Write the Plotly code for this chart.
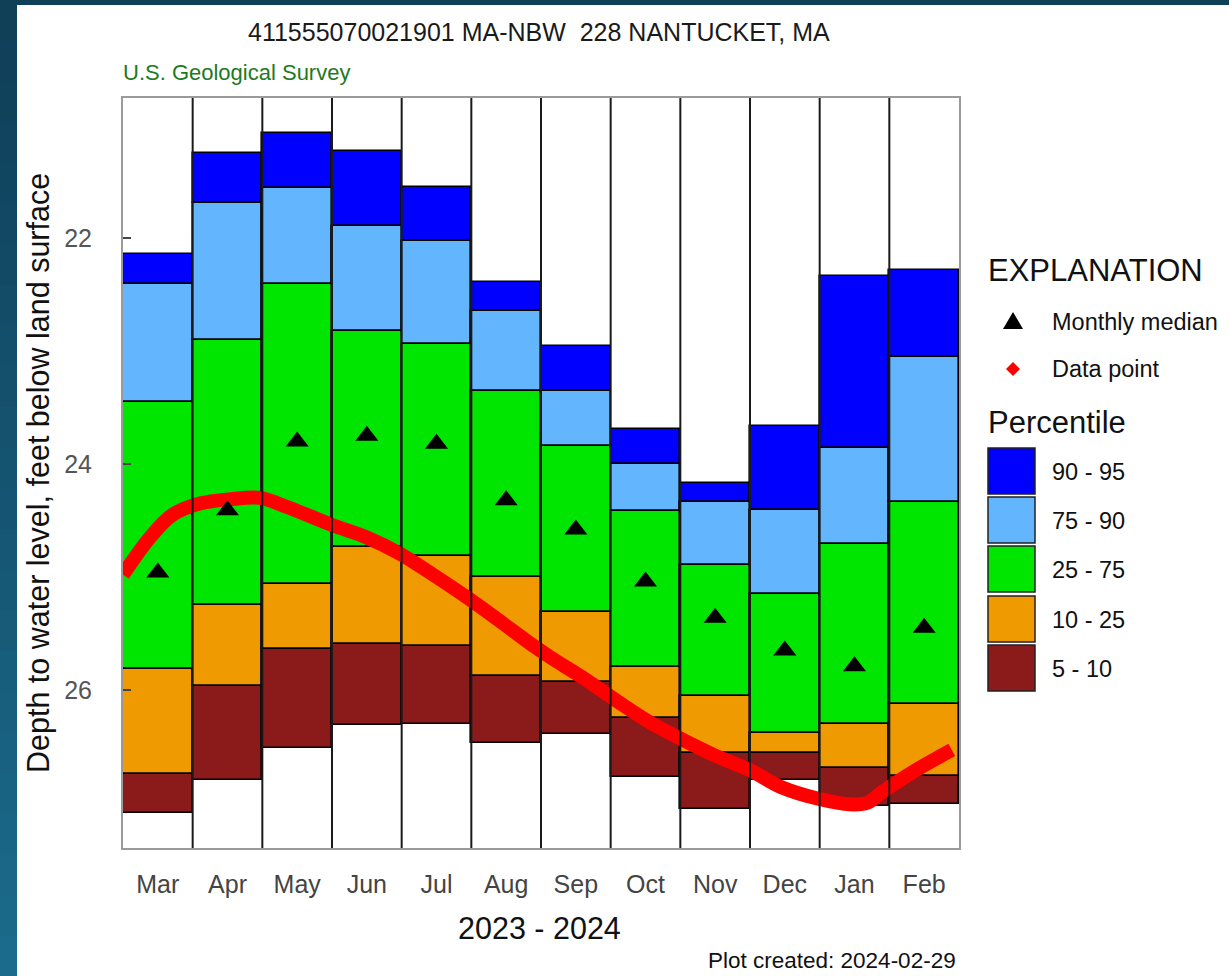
import pandas as pd
import plotly.graph_objects as go

# ---------------- data ----------------
months = ["Mar", "Apr", "May", "Jun", "Jul", "Aug", "Sep", "Oct", "Nov", "Dec", "Jan", "Feb"]
# percentile depths (feet below land surface)
p95 = [22.14, 21.25, 21.07, 21.23, 21.55, 22.39, 22.96, 23.69, 24.17, 23.66, 22.34, 22.28]
p90 = [22.41, 21.69, 21.56, 21.89, 22.03, 22.65, 23.35, 24.00, 24.34, 24.41, 23.86, 23.05]
p75 = [23.45, 22.90, 22.41, 22.82, 22.94, 23.35, 23.84, 24.42, 24.89, 25.15, 24.71, 24.34]
p25 = [25.81, 25.25, 25.06, 24.73, 24.81, 25.00, 25.31, 25.80, 26.05, 26.38, 26.30, 26.12]
p10 = [26.74, 25.96, 25.64, 25.59, 25.61, 25.88, 25.93, 26.25, 26.56, 26.56, 26.69, 26.76]
p05 = [27.09, 26.80, 26.51, 26.31, 26.30, 26.47, 26.39, 26.77, 27.05, 26.80, 27.03, 27.01]
medians = [24.96, 24.41, 23.80, 23.75, 23.82, 24.32, 24.58, 25.04, 25.36, 25.65, 25.79, 25.45]

obs_dates = ["2023-03-01", "2023-03-13", "2023-03-23", "2023-04-04", "2023-04-18", "2023-04-30",
             "2023-05-12", "2023-06-01", "2023-06-16", "2023-06-30", "2023-07-15", "2023-07-30",
             "2023-08-13", "2023-08-28", "2023-09-05", "2023-09-19", "2023-10-04", "2023-10-18",
             "2023-11-02", "2023-11-16", "2023-12-01", "2023-12-15", "2023-12-31", "2024-01-14",
             "2024-01-22", "2024-01-29", "2024-02-12", "2024-02-27"]
obs_depth = [24.98, 24.65, 24.45, 24.35, 24.31, 24.30,
             24.38, 24.54, 24.65, 24.79, 24.98, 25.18,
             25.38, 25.60, 25.71, 25.89, 26.10, 26.28,
             26.44, 26.58, 26.71, 26.86, 26.96, 27.01,
             27.00, 26.90, 26.71, 26.53]

band_names = ["90 - 95", "75 - 90", "25 - 75", "10 - 25", "5 - 10"]
band_colors = ["#0000ff", "#63b5fd", "#00e600", "#ee9a00", "#8b1a1a"]

# ---------------- geometry helpers ----------------
W, H = 1229, 976
L, R, T, B = 123, 959, 98, 848   # plot area in pixels


def px(x):
    return (x - L) / (R - L)


def py(y):
    return (B - y) / (B - T)


FONT = "Liberation Sans, Arial, sans-serif"

# month positions: month i spans [i, i+1]
centers = [i + 0.5 for i in range(12)]


def date_pos(d):
    d = pd.Timestamp(d)
    idx = (d.year - 2023) * 12 + d.month - 3
    return idx + (d.day - 1) / d.days_in_month


obs_x = [date_pos(d) for d in obs_dates]

fig = go.Figure()

bounds = [p95, p90, p75, p25, p10, p05]
for k in range(5):
    upper = bounds[k]
    lower = bounds[k + 1]
    fig.add_trace(go.Bar(
        x=centers, y=[lo - up for lo, up in zip(lower, upper)], base=upper,
        width=1, marker=dict(color=band_colors[k], line=dict(color="black", width=1.6)),
        name=band_names[k], showlegend=False, hoverinfo="skip"))

fig.add_trace(go.Scatter(
    x=obs_x, y=obs_depth, mode="lines", line=dict(color="#ff0000", width=14, shape="spline", smoothing=1.0),
    showlegend=False, hoverinfo="skip"))

fig.add_trace(go.Scatter(
    x=centers, y=medians, mode="markers",
    marker=dict(symbol="triangle-up", size=20, color="black"),
    showlegend=False, hoverinfo="skip"))

shapes = []
# background gradient (left strip + top strip)
n = 24
for i in range(n):
    t = i / (n - 1)
    r_ = int(0x10 + (0x1b - 0x10) * t)
    g_ = int(0x3f + (0x6b - 0x3f) * t)
    b_ = int(0x58 + (0x8c - 0x58) * t)
    y0p = i * H / n
    y1p = (i + 1) * H / n + 1
    shapes.append(dict(type="rect", xref="paper", yref="paper", layer="below",
                       x0=px(0), x1=px(W), y0=py(y1p), y1=py(y0p),
                       fillcolor=f"rgb({r_},{g_},{b_})", line=dict(width=0)))
# white panel
shapes.append(dict(type="rect", xref="paper", yref="paper", layer="below",
                   x0=px(17), x1=px(W + 2), y0=py(H + 2), y1=py(5),
                   fillcolor="white", line=dict(width=0)))
# month dividers
for i in range(1, 12):
    shapes.append(dict(type="line", xref="x", yref="paper", x0=i, x1=i, y0=0, y1=1,
                       line=dict(color="#1a1a1a", width=2), layer="above"))

# legend boxes
lx0, lx1 = 988, 1035
box_tops = [448, 497, 546, 596, 645]
for k, top in enumerate(box_tops):
    shapes.append(dict(type="rect", xref="paper", yref="paper",
                       x0=px(lx0), x1=px(lx1), y0=py(top + 46), y1=py(top),
                       fillcolor=band_colors[k], line=dict(color="#222", width=1.5)))
# legend triangle
tx, ty = 1013, 321
shapes.append(dict(type="path", xref="paper", yref="paper",
                   path=f"M {px(tx-10)} {py(ty+8)} L {px(tx+10)} {py(ty+8)} L {px(tx)} {py(ty-9)} Z",
                   fillcolor="black", line=dict(width=0)))
# legend diamond
dx, dy = 1013, 369
shapes.append(dict(type="path", xref="paper", yref="paper",
                   path=f"M {px(dx-7)} {py(dy)} L {px(dx)} {py(dy-7)} L {px(dx+7)} {py(dy)} L {px(dx)} {py(dy+7)} Z",
                   fillcolor="#ff0000", line=dict(width=0)))

ann = []


def text(x, y, s, size, color="#111", xanchor="left", angle=0):
    ann.append(dict(x=px(x), y=py(y), xref="paper", yref="paper", text=s, showarrow=False,
                    xanchor=xanchor, yanchor="middle", textangle=angle,
                    font=dict(family=FONT, size=size, color=color)))


text(539, 32, "411555070021901 MA-NBW\u00a0 228 NANTUCKET, MA", 25, "#1a1a1a", "center")
text(121, 72, "U.S. Geological Survey", 22, "#1e7a1e", "left")
text(539, 928, "2023 - 2024", 30.5, "#111", "center")
text(958, 960, "Plot created: 2024-02-29", 22.5, "#111", "right")
text(38, 473, "Depth to water level, feet below land surface", 30.5, "#111", "center", -90)
text(986, 270, "EXPLANATION", 31, "#111", "left")
text(1050, 322, "Monthly median", 23.5, "#111", "left")
text(1050, 369, "Data point", 23.5, "#111", "left")
text(986, 422, "Percentile", 31, "#111", "left")
for k, top in enumerate(box_tops):
    text(1050, top + 24, band_names[k], 23.5, "#111", "left")

fig.update_layout(
    width=W, height=H, autosize=False,
    margin=dict(l=L, r=W - R, t=T, b=H - B, pad=0),
    paper_bgcolor="#12455e", plot_bgcolor="white",
    barmode="overlay", bargap=0,
    shapes=shapes, annotations=ann,
    font=dict(family=FONT),
)
fig.update_xaxes(range=[0, 12], tickvals=centers, ticktext=months, ticks="",
                 showgrid=False, zeroline=False, showline=True, mirror=True,
                 linecolor="#9a9a9a", linewidth=2,
                 tickfont=dict(family=FONT, size=25, color="#444"), ticklabelstandoff=13)
fig.update_yaxes(range=[27.398, 20.761], tickvals=[22, 24, 26], ticks="inside", ticklen=8,
                 tickcolor="#444", tickwidth=1.5,
                 showgrid=False, zeroline=False, showline=True, mirror=True,
                 linecolor="#9a9a9a", linewidth=2,
                 tickfont=dict(family=FONT, size=25, color="#555"), ticklabelstandoff=24)

fig.write_html("out.html", config={"displayModeBar": False},
               post_script="document.body.style.margin='0';document.body.style.overflow='hidden';")
